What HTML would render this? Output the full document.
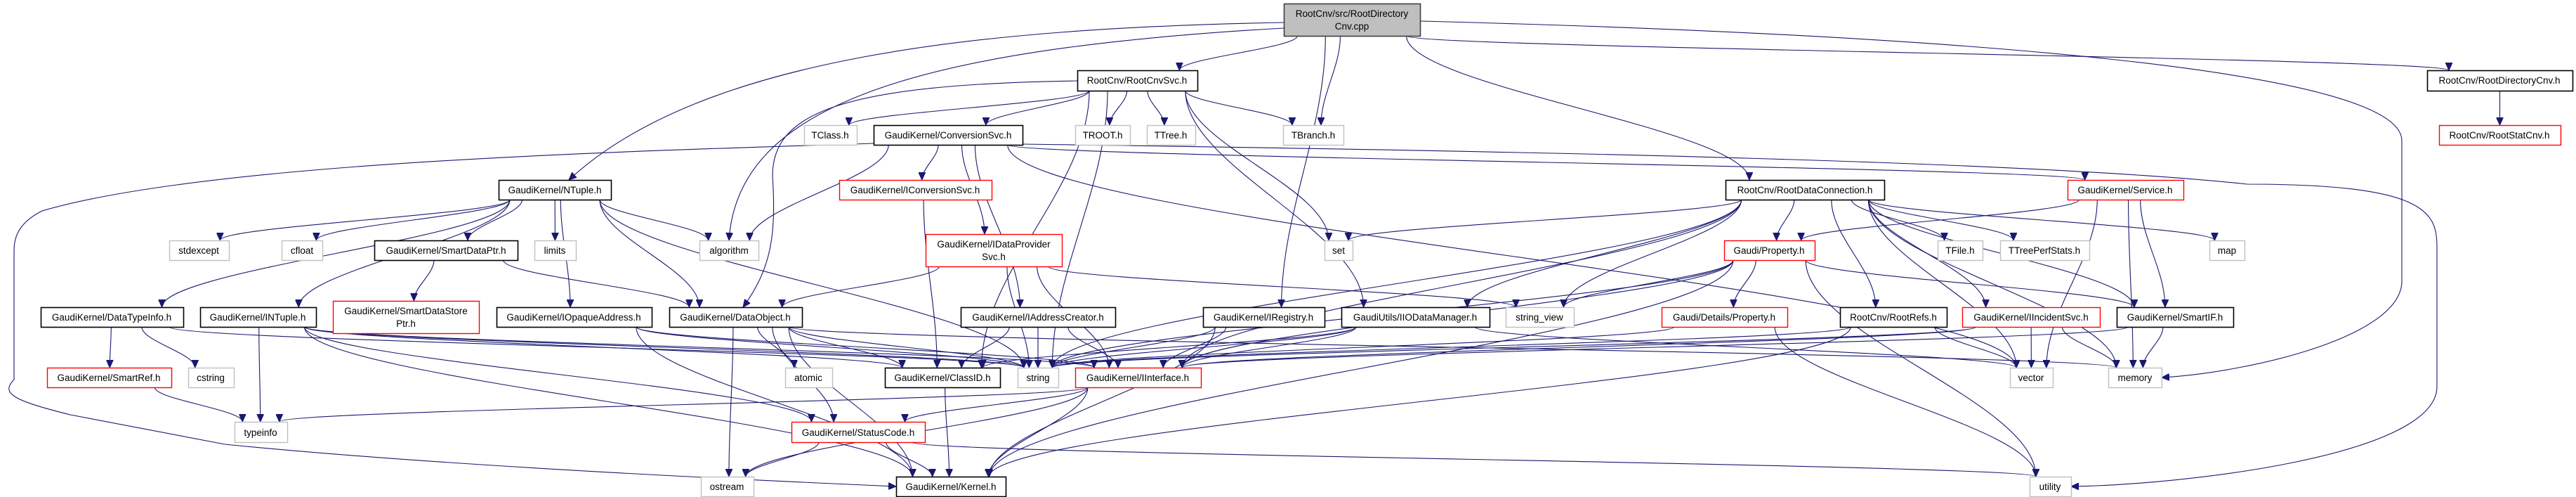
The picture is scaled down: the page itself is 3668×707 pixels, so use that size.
<!DOCTYPE html>
<html><head><meta charset="utf-8">
<style>
html,body{margin:0;padding:0;background:#fff;}
svg{display:block;}
text{font-family:"Liberation Sans",sans-serif;font-size:13.5px;fill:#000;}
</style></head>
<body>
<svg id="g" width="3668" height="707" viewBox="0 0 3668 707" xmlns="http://www.w3.org/2000/svg">
<defs>
<marker id="a" markerWidth="12" markerHeight="10" refX="11" refY="5" orient="auto" markerUnits="userSpaceOnUse">
<path d="M0,0 L11,5 L0,10 z" fill="#191970" stroke="#191970"/>
</marker>
</defs>
<g id="edges" fill="none" stroke="#191970" stroke-width="1.1"></g>
<g id="nodes"></g>
<g id="labels">
<text x="1925" y="24" text-anchor="middle">RootCnv/src/RootDirectory</text>
<text x="1925" y="42" text-anchor="middle">Cnv.cpp</text>
<text x="1619" y="119" text-anchor="middle">RootCnv/RootCnvSvc.h</text>
<text x="3559" y="119" text-anchor="middle">RootCnv/RootDirectoryCnv.h</text>
<text x="1182" y="197" text-anchor="middle">TClass.h</text>
<text x="1350" y="197" text-anchor="middle">GaudiKernel/ConversionSvc.h</text>
<text x="1570" y="197" text-anchor="middle">TROOT.h</text>
<text x="1667" y="197" text-anchor="middle">TTree.h</text>
<text x="1870" y="197" text-anchor="middle">TBranch.h</text>
<text x="3559" y="197" text-anchor="middle">RootCnv/RootStatCnv.h</text>
<text x="790" y="275" text-anchor="middle">GaudiKernel/NTuple.h</text>
<text x="1303" y="275" text-anchor="middle">GaudiKernel/IConversionSvc.h</text>
<text x="2570" y="275" text-anchor="middle">RootCnv/RootDataConnection.h</text>
<text x="3026" y="275" text-anchor="middle">GaudiKernel/Service.h</text>
<text x="283" y="361" text-anchor="middle">stdexcept</text>
<text x="430" y="361" text-anchor="middle">cfloat</text>
<text x="635" y="361" text-anchor="middle">GaudiKernel/SmartDataPtr.h</text>
<text x="790" y="361" text-anchor="middle">limits</text>
<text x="1038" y="361" text-anchor="middle">algorithm</text>
<text x="1415" y="352" text-anchor="middle">GaudiKernel/IDataProvider</text>
<text x="1415" y="370" text-anchor="middle">Svc.h</text>
<text x="1906" y="361" text-anchor="middle">set</text>
<text x="2519" y="361" text-anchor="middle">Gaudi/Property.h</text>
<text x="2791" y="361" text-anchor="middle">TFile.h</text>
<text x="2911" y="361" text-anchor="middle">TTreePerfStats.h</text>
<text x="3171" y="361" text-anchor="middle">map</text>
<text x="159" y="456" text-anchor="middle">GaudiKernel/DataTypeInfo.h</text>
<text x="367" y="456" text-anchor="middle">GaudiKernel/INTuple.h</text>
<text x="578" y="447" text-anchor="middle">GaudiKernel/SmartDataStore</text>
<text x="578" y="465" text-anchor="middle">Ptr.h</text>
<text x="817" y="456" text-anchor="middle">GaudiKernel/IOpaqueAddress.h</text>
<text x="1047" y="456" text-anchor="middle">GaudiKernel/DataObject.h</text>
<text x="1478" y="456" text-anchor="middle">GaudiKernel/IAddressCreator.h</text>
<text x="1799" y="456" text-anchor="middle">GaudiKernel/IRegistry.h</text>
<text x="2015" y="456" text-anchor="middle">GaudiUtils/IIODataManager.h</text>
<text x="2192" y="456" text-anchor="middle">string_view</text>
<text x="2455" y="456" text-anchor="middle">Gaudi/Details/Property.h</text>
<text x="2696" y="456" text-anchor="middle">RootCnv/RootRefs.h</text>
<text x="2892" y="456" text-anchor="middle">GaudiKernel/IIncidentSvc.h</text>
<text x="3097" y="456" text-anchor="middle">GaudiKernel/SmartIF.h</text>
<text x="155" y="542" text-anchor="middle">GaudiKernel/SmartRef.h</text>
<text x="300" y="542" text-anchor="middle">cstring</text>
<text x="1151" y="542" text-anchor="middle">atomic</text>
<text x="1342" y="542" text-anchor="middle">GaudiKernel/ClassID.h</text>
<text x="1478" y="542" text-anchor="middle">string</text>
<text x="1620" y="542" text-anchor="middle">GaudiKernel/IInterface.h</text>
<text x="2892" y="542" text-anchor="middle">vector</text>
<text x="3040" y="542" text-anchor="middle">memory</text>
<text x="371" y="620" text-anchor="middle">typeinfo</text>
<text x="1222" y="620" text-anchor="middle">GaudiKernel/StatusCode.h</text>
<text x="1035" y="697" text-anchor="middle">ostream</text>
<text x="1354" y="697" text-anchor="middle">GaudiKernel/Kernel.h</text>
<text x="2919" y="697" text-anchor="middle">utility</text>
</g>
</svg>
<script>
var N={
cpp:[1828,2022,5,51,'f'],
rcs:[1534,1705,100,129,'b'],
rdc:[3456,3663,100,129,'b'],
tclass:[1145,1220,178,206,'g'],
convsvc:[1244,1456,178,206,'b'],
troot:[1531,1609,178,206,'g'],
ttree:[1633,1702,178,206,'g'],
tbranch:[1827,1913,178,206,'g'],
rstat:[3473,3646,178,206,'r'],
ntuple:[710,870,256,284,'b'],
iconv:[1195,1412,256,284,'r'],
rdconn:[2457,2683,256,284,'b'],
service:[2944,3109,256,284,'r'],
stdexcept:[241,326,342,370,'g'],
cfloat:[401,459,342,370,'g'],
sdptr:[533,737,342,370,'b'],
limits:[761,820,342,370,'g'],
algorithm:[996,1080,342,370,'g'],
idps:[1318,1512,333,379,'r'],
set:[1886,1926,342,370,'g'],
prop:[2455,2584,342,370,'r'],
tfile:[2759,2823,342,370,'g'],
ttps:[2848,2975,342,370,'g'],
map:[3146,3196,342,370,'g'],
dti:[58,261,437,465,'b'],
intuple:[285,450,437,465,'b'],
sdsp:[474,682,428,474,'r'],
ioa:[707,928,437,465,'b'],
dobj:[953,1142,437,465,'b'],
iac:[1368,1588,437,465,'b'],
ireg:[1713,1886,437,465,'b'],
iio:[1910,2121,437,465,'b'],
sview:[2144,2241,437,465,'g'],
dprop:[2366,2545,437,465,'r'],
rrefs:[2620,2772,437,465,'b'],
iinc:[2794,2990,437,465,'r'],
smartif:[3014,3180,437,465,'b'],
smartref:[67,244,523,551,'r'],
cstring:[268,333,523,551,'g'],
atomic:[1118,1185,523,551,'g'],
classid:[1260,1424,523,551,'b'],
string:[1449,1507,523,551,'g'],
iint:[1531,1710,523,551,'r'],
vector:[2862,2923,523,551,'g'],
memory:[3002,3078,523,551,'g'],
typeinfo:[334,409,600,629,'g'],
sc:[1127,1317,600,629,'r'],
ostream:[998,1073,678,706,'g'],
kernel:[1276,1432,678,706,'b'],
utility:[2890,2949,678,706,'g']
};
var ns='http://www.w3.org/2000/svg';
var gn=document.getElementById('nodes'),ge=document.getElementById('edges');
for(var k in N){var n=N[k];var r=document.createElementNS(ns,'rect');
r.setAttribute('x',n[0]+0.5);r.setAttribute('y',n[2]+0.5);r.setAttribute('width',n[1]-n[0]);r.setAttribute('height',n[3]-n[2]);
var c={b:['#fff','#000','1.6'],r:['#fff','#ff0000','1.4'],g:['#fff','#c0c0c0','1.4'],f:['#bfbfbf','#404040','1.6']}[n[4]];
r.setAttribute('fill',c[0]);r.setAttribute('stroke',c[1]);r.setAttribute('stroke-width',c[2]);gn.appendChild(r);}
function P(d){var p=document.createElementNS(ns,'path');p.setAttribute('d',d);p.setAttribute('marker-end','url(#a)');ge.appendChild(p);}
function E(a,b){var s=N[a],t=N[b];var scx=(s[0]+s[1])/2,tcx=(t[0]+t[1])/2;
if(t[2]<s[3]&&t[3]>s[2]){var y=(s[2]+s[3])/2+((t[2]+t[3])/2-(s[2]+s[3])/2)/2;
if(tcx>scx)P('M'+s[1]+','+y+' L'+t[0]+','+y);else P('M'+s[0]+','+y+' L'+t[1]+','+y);return;}
var sw=(s[1]-s[0])*0.4,tw=(t[1]-t[0])*0.35;
var sx=scx+Math.max(-sw,Math.min(sw,(tcx-scx)*0.3));var tx=tcx+Math.max(-tw,Math.min(tw,(scx-tcx)*0.2));
var sy=s[3],ty=t[2],dy=ty-sy;
P('M'+sx+','+sy+' C'+sx+','+(sy+dy*0.35)+' '+tx+','+(ty-dy*0.35)+' '+tx+','+ty);}
var L=[
['cpp','rcs'],['cpp','tbranch'],['cpp','ireg'],['cpp','rdconn'],['cpp','rdc'],
['rcs','tclass'],['rcs','convsvc'],['rcs','troot'],['rcs','ttree'],['rcs','tbranch'],['rcs','set'],['rcs','classid'],['rcs','iio'],['rcs','string'],
['convsvc','iconv'],['convsvc','idps'],['convsvc','iac'],['convsvc','algorithm'],['convsvc','service'],['convsvc','vector'],
['ntuple','stdexcept'],['ntuple','cfloat'],['ntuple','sdptr'],['ntuple','limits'],['ntuple','dti'],['ntuple','intuple'],['ntuple','ioa'],['ntuple','algorithm'],['ntuple','dobj'],['ntuple','string'],
['sdptr','sdsp'],['sdptr','dobj'],
['dti','smartref'],['dti','cstring'],['dti','string'],
['smartref','typeinfo'],
['intuple','typeinfo'],['intuple','classid'],['intuple','string'],['intuple','kernel'],['intuple','sc'],['intuple','iint'],
['ioa','string'],['ioa','kernel'],['ioa','iint'],
['iconv','classid'],
['idps','dobj'],['idps','string'],['idps','iint'],['idps','sview'],
['dobj','ostream'],['dobj','atomic'],['dobj','classid'],['dobj','string'],['dobj','sc'],['dobj','kernel'],['dobj','memory'],
['iac','classid'],['iac','string'],['iac','iint'],
['ireg','string'],['ireg','kernel'],['ireg','iint'],
['iio','string'],['iio','iint'],['iio','vector'],['iio','classid'],
['classid','kernel'],
['iint','typeinfo'],['iint','ostream'],['iint','sc'],['iint','kernel'],
['sc','ostream'],['sc','kernel'],['sc','utility'],
['rdconn','set'],['rdconn','prop'],['rdconn','rrefs'],['rdconn','iinc'],['rdconn','smartif'],['rdconn','tfile'],['rdconn','ttps'],['rdconn','map'],['rdconn','sview'],['rdconn','iio'],['rdconn','string'],['rdconn','vector'],['rdconn','memory'],['rdconn','iint'],
['prop','sview'],['prop','dprop'],['prop','string'],['prop','iint'],['prop','smartif'],['prop','utility'],['prop','kernel'],
['dprop','string'],['dprop','utility'],
['rrefs','vector'],['rrefs','string'],['rrefs','kernel'],
['iinc','vector'],['iinc','memory'],['iinc','string'],['iinc','iint'],
['smartif','memory'],['smartif','iint'],
['service','prop'],['service','smartif'],['service','vector'],['service','memory'],
['rdc','rstat']
];
L.forEach(function(e){E(e[0],e[1]);});
P('M1828,32 C1400,40 1000,80 810,256');
P('M1828,40 C1300,70 1050,150 1038,342');
P('M1534,115 C1200,120 1100,160 1100,250 C1105,330 1100,380 1058,437');
P('M2022,30 C2800,50 3420,100 3420,200 L3420,400 C3420,480 3200,530 3078,537');
P('M1456,205 C2200,215 2900,230 3200,262 C3450,262 3470,300 3470,350 L3470,550 C3470,650 3100,690 2949,692');
P('M1244,204 C900,215 300,230 60,300 C20,320 20,345 20,360 L20,540 C0,560 20,570 100,590 L320,632 C600,660 1000,680 1276,692');
</script>
</body></html>
